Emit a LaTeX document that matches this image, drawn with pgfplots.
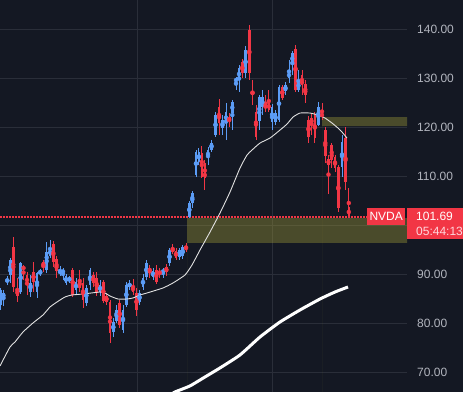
\documentclass[border=0pt]{standalone}
\usepackage{pgfplots}
\pgfplotsset{compat=1.18}
\usepackage{pgfplotstable}
\usepackage{fontspec}
\setmainfont{Liberation Sans}
\definecolor{bg}{RGB}{20,24,35}
\definecolor{gridc}{RGB}{42,46,57}
\definecolor{upc}{RGB}{91,156,246}
\definecolor{dnc}{RGB}{242,54,69}
\definecolor{zonec}{RGB}{157,152,56}
\definecolor{tickc}{RGB}{178,181,190}
\definecolor{timec}{RGB}{255,215,220}

\pgfplotstableread{
x o h l c
0.7 83.74 87.21 82.72 86.80
3.5 85.17 86.80 83.53 86.19
7.3 88.43 89.65 87.82 89.04
10.2 89.86 93.33 88.23 92.92
20.7 86.39 92.51 85.98 92.31
30.5 86.39 89.86 85.37 88.23
37 86.39 90.47 85.17 90.27
40.2 90.27 91.08 89.65 90.67
46.7 90.88 96.59 90.27 94.55
50 93.73 97.00 93.33 95.16
60 90.27 91.69 89.65 90.67
63 90.27 91.29 88.84 90.88
66 88.23 90.06 87.82 89.65
69.3 88.84 89.65 88.23 89.25
76 86.80 89.25 85.98 88.43
86.3 84.15 87.82 83.53 87.21
90 87.82 91.29 86.80 90.88
100 86.39 88.84 85.57 87.82
113.3 78.23 81.09 77.21 80.27
116.5 80.47 83.74 80.07 82.72
123 78.64 83.74 78.03 82.72
126.3 83.74 88.43 83.33 87.82
129.5 87.61 88.84 86.80 88.02
139.5 84.35 86.80 83.74 86.19
143 87.41 90.06 86.80 89.25
146.3 89.45 92.92 88.84 92.31
153 89.45 91.29 88.84 90.67
163 90.27 91.29 89.25 90.88
169.5 92.31 95.37 91.69 94.96
179.3 93.53 95.37 92.92 94.96
182.7 93.73 95.98 93.12 95.57
189.3 101.69 104.95 101.49 104.55
192.3 104.55 107.00 103.53 106.59
196 110.26 115.36 109.85 114.95
198.8 112.91 115.77 112.30 114.95
208 113.73 115.97 112.30 115.36
211.5 115.36 117.40 114.95 116.79
215.5 118.42 123.11 118.01 122.50
222.5 119.85 122.50 118.42 121.48
226 120.87 124.95 117.40 123.11
232.3 122.91 125.57 119.44 125.15
236 129.43 130.25 127.60 129.84
239 129.64 132.71 127.19 132.09
245.5 131.07 136.57 130.04 135.76
259.3 121.28 126.58 119.44 126.17
262.3 124.13 127.60 122.50 126.17
272 121.07 124.74 119.44 124.13
275.5 121.07 123.52 120.46 122.91
279 121.48 128.62 121.07 128.21
285.5 127.39 129.23 126.58 128.62
289 130.04 133.72 129.03 131.27
292.3 132.90 135.56 130.66 135.15
298.5 127.60 131.68 127.19 129.43
318.3 120.46 125.15 120.26 124.13
342 111.89 118.42 109.85 116.99
}\up

\pgfplotstableread{
x o h l c
13.3 95.57 97.61 86.39 87.41
17.3 87.00 89.25 84.35 85.57
23.5 91.49 91.90 88.84 91.08
27 89.86 90.47 85.78 87.82
33.5 90.47 92.51 86.39 88.43
43.3 92.51 92.92 90.47 91.49
53.3 96.18 96.79 91.49 92.51
56.5 93.12 93.73 89.25 90.67
72.7 90.88 91.29 85.37 85.78
79.7 88.84 90.88 86.39 87.21
83 88.23 89.25 83.13 84.76
93.3 89.86 90.47 87.41 88.23
96.7 89.25 90.47 85.57 86.19
103.3 88.43 88.84 84.15 84.55
106.5 85.57 86.19 83.74 84.35
110 84.35 84.76 75.99 78.03
119.7 84.15 84.76 79.05 79.67
133 87.61 89.04 85.78 86.39
136.5 86.19 87.21 81.49 82.72
149.7 91.29 91.90 89.25 90.47
156.3 90.88 91.90 88.02 88.43
159.7 90.67 91.29 89.25 90.06
166.3 91.49 92.10 89.65 90.47
172.7 95.37 96.18 94.14 94.55
176 94.75 95.37 92.92 93.33
186 95.77 96.39 94.55 94.96
201.8 114.75 116.17 109.65 109.85
204.8 112.71 113.32 107.20 109.65
219 124.13 125.76 118.42 120.87
229.2 122.09 122.91 120.07 121.28
242.3 133.31 133.93 130.04 131.07
249.3 139.84 140.86 129.64 131.07
252.5 127.19 129.64 124.54 126.78
256 123.11 124.54 117.40 118.01
265.5 124.33 126.58 123.11 124.13
268.8 124.95 127.60 123.11 123.52
282.3 128.21 128.62 125.57 125.97
295.5 135.96 136.78 127.19 127.60
302 130.66 131.68 126.58 128.62
305.3 128.82 129.64 124.95 126.58
308.5 121.48 122.29 116.79 118.01
311.5 121.89 122.91 118.42 120.66
314.8 122.50 123.11 116.79 117.81
322 122.70 124.95 121.48 122.29
325.3 119.44 120.05 112.71 114.14
328.5 113.52 114.34 106.38 112.30
331.7 116.38 116.79 111.69 113.32
335 113.93 114.34 110.87 111.69
338.3 111.89 112.30 102.71 103.53
345.5 117.81 120.05 107.20 108.83
348.8 103.74 107.61 101.49 101.69
}\down

\begin{document}
\begin{tikzpicture}[x=1pt,y=1pt]
\useasboundingbox (0,0) rectangle (463,392);
\fill[bg] (0,0) rectangle (463,392);
\begin{axis}[
  at={(0,0)}, anchor=south west, scale only axis,
  width=407pt, height=392pt,
  xmin=0, xmax=407, ymin=65.98, ymax=145.98,
  axis line style={draw=none},
  tick style={draw=none},
  major tick length=0pt,
  xtick={137,272}, xticklabels={}, xmajorgrids,
  ytick={70,80,...,140}, ymajorgrids,
  grid style={gridc, line width=0.8pt},
  yticklabel pos=right,
  yticklabels={70.00,80.00,90.00,{},110.00,120.00,130.00,140.00},
  yticklabel style={anchor=west, inner sep=0pt, xshift=10pt,
    font=\fontsize{12}{14}\selectfont, text=tickc},
]
% zones
\addplot[draw=none, fill=zonec, fill opacity=0.4] coordinates {(187,96.39) (407,96.39) (407,101.49) (187,101.49)} \closedcycle;
\addplot[draw=none, fill=zonec, fill opacity=0.4] coordinates {(322,120.25) (407,120.25) (407,122.09) (322,122.09)} \closedcycle;
% price line
\addplot[dnc, line width=1.1pt, dash pattern=on 1.5pt off 1.5pt] coordinates {(0,101.69) (367,101.69)};
% wicks
\addplot[upc, only marks, mark=none, error bars/.cd, y dir=both, y explicit, error mark=none,
  error bar style={line width=0.9pt, draw=upc}]
  table[x=x, y expr={(\thisrow{h}+\thisrow{l})/2}, y error expr={(\thisrow{h}-\thisrow{l})/2}] {\up};
\addplot[dnc, only marks, mark=none, error bars/.cd, y dir=both, y explicit, error mark=none,
  error bar style={line width=0.9pt, draw=dnc}]
  table[x=x, y expr={(\thisrow{h}+\thisrow{l})/2}, y error expr={(\thisrow{h}-\thisrow{l})/2}] {\down};
% bodies
\addplot[upc, only marks, mark=none, error bars/.cd, y dir=both, y explicit, error mark=none,
  error bar style={line width=2.6pt, draw=upc}]
  table[x=x, y expr={(\thisrow{o}+\thisrow{c})/2}, y error expr={max(abs(\thisrow{o}-\thisrow{c})/2,0.12)}] {\up};
\addplot[dnc, only marks, mark=none, error bars/.cd, y dir=both, y explicit, error mark=none,
  error bar style={line width=2.6pt, draw=dnc}]
  table[x=x, y expr={(\thisrow{o}+\thisrow{c})/2}, y error expr={max(abs(\thisrow{o}-\thisrow{c})/2,0.12)}] {\down};
% thin moving average
\addplot[color={rgb,255:red,225;green,225;blue,225}, line width=0.9pt, smooth, tension=0.3] coordinates {
(0,71.29) (10,75.17) (15,76.19) (23,78.23) (33,80.07) (43,81.70) (50,83.33) (57,84.35)
(65,85.37) (72,85.78) (83,85.98) (100,86.39) (105,86.19) (110,85.57) (118,84.96)
(127,84.96) (133,85.17) (140,85.78) (147,86.19) (163,87.21) (173,88.23) (185,89.86)
(192,91.90) (200,94.96) (210,98.63) (220,102.51) (230,106.79) (240,111.69) (247,114.34)
(252,115.36) (260,116.79) (270,117.81) (280,119.44) (287,120.66) (293,122.09) (300,122.91)
(310,122.91) (318,122.50) (325,121.89) (332,120.87) (338,119.85) (342,119.03) (347,117.81)};
% thick moving average
\addplot[white, line width=3pt, smooth, tension=0.3] coordinates {
(170,65.38) (175,65.99) (190,67.22) (205,69.05) (220,70.89) (240,73.54) (260,77.21)
(280,80.27) (300,82.72) (320,84.96) (335,86.39) (348,87.41)};
\end{axis}
% labels
\node[fill=dnc, text=white, inner sep=0pt, minimum width=38pt, minimum height=17pt,
  anchor=north west, font=\fontsize{12}{14}\selectfont] at (367,184) {NVDA};
\fill[dnc] (407,153) rectangle (463,184);
\node[anchor=west, inner sep=0pt, text=white, font=\fontsize{12}{14}\selectfont] at (416,176) {101.69};
\node[anchor=west, inner sep=0pt, text=timec, font=\fontsize{12}{14}\selectfont] at (416,161) {05:44:13};
\end{tikzpicture}
\end{document}
